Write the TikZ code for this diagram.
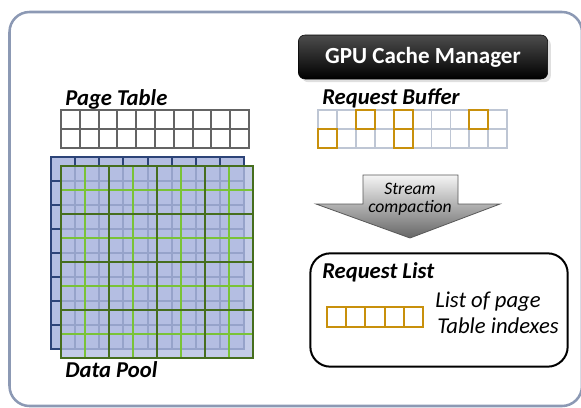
\documentclass[tikz,border=0pt]{standalone}
\usepackage{fontspec}
\setmainfont{Carlito}
\usetikzlibrary{positioning,shadows}

\definecolor{framegray}{RGB}{140,153,180}
\definecolor{ptgray}{RGB}{100,100,100}
\definecolor{bufgray}{RGB}{190,198,212}
\definecolor{reqorange}{RGB}{200,144,12}
\definecolor{poolblue}{RGB}{180,190,226}
\definecolor{poolnavy}{RGB}{45,68,120}
\definecolor{greendark}{RGB}{70,110,30}
\definecolor{greenlight}{RGB}{122,195,55}

\begin{document}
\begin{tikzpicture}[x=0.75pt, y=-0.75pt,
  lbl/.style={anchor=base west, inner sep=0pt,
              font=\fontsize{17}{20}\selectfont\bfseries\itshape},
  note/.style={anchor=base west, inner sep=0pt,
               font=\fontsize{17}{20}\selectfont\itshape},
  cmpt/.style={anchor=north, inner sep=0pt, align=center,
               font=\fontsize{13.2}{13}\selectfont\itshape},
  mgr/.style={draw=black, top color=black!70, bottom color=black,
              rounded corners=5pt, minimum width=187pt, minimum height=33pt,
              text=white, font=\fontsize{17.3}{20}\selectfont\bfseries,
              drop shadow={opacity=0.25}},
  box/.style={draw, line width=1.5pt, rounded corners=15pt,
              minimum width=193pt, minimum height=85pt},
  ptline/.style={draw=ptgray, line width=1.5pt},
  bufline/.style={draw=bufgray, line width=1.2pt},
  req/.style={draw=reqorange, line width=1.5pt}]
\useasboundingbox (0,0) rectangle (581,407);
\clip (0,0) rectangle (581,407);

% outer frame
\draw[framegray, line width=1.9pt, rounded corners=15pt] (9.5,12) rectangle (582,406);

% manager title
\node[mgr] (mgr) at (423,57) {GPU Cache Manager};

% page table
\node[lbl] (ptl) at (65,105) {Page Table};
\foreach \c in {0,...,9} \foreach \r in {0,1}
  \draw[ptline] (61+18.8*\c,110+19*\r) rectangle ++(18.8,19);

% request buffer
\node[lbl] (rbl) at (322,104) {Request Buffer};
\foreach \c in {0,...,9} \foreach \r in {0,1}
  \draw[bufline] (318+18.9*\c,110+19*\r) rectangle ++(18.9,19);
\foreach \c/\r in {2/0,4/0,8/0,0/1,4/1}
  \draw[req] (318+18.9*\c,110+19*\r) rectangle ++(18.9,19);

% data pool (back layer)
\fill[poolblue] (51,157) rectangle (244,349);
\foreach \i in {1,...,7} {
  \draw[poolnavy, line width=1.5pt] (51+24.125*\i,157) -- ++(0,192);
  \draw[poolnavy, line width=1.5pt] (51,157+24*\i) -- ++(193,0);
}
\draw[poolnavy, line width=1.5pt] (51,157) rectangle (244,349);

% data pool (front layer)
\fill[poolblue, opacity=0.78] (61,166) rectangle (253,358);
\foreach \i in {1,3,5,7} {
  \draw[greenlight, line width=0.9pt] (61+24*\i,166) -- ++(0,192);
  \draw[greenlight, line width=0.9pt] (61,166+24*\i) -- ++(192,0);
}
\foreach \i in {2,4,6} {
  \draw[greendark, line width=1.6pt] (61+24*\i,166) -- ++(0,192);
  \draw[greendark, line width=1.6pt] (61,166+24*\i) -- ++(192,0);
}
\draw[greendark, line width=1.6pt] (61,166) rectangle (253,358);
\node[lbl] (dpl) at (65,377) {Data Pool};

% compaction arrow
\path[top color=black!4, bottom color=black!60, draw=black!65, line width=0.6pt]
  (363,175) -- (458,175) -- (458,204) -- (500,204) -- (410,238)
  -- (316,204) -- (363,204) -- cycle;
\node[cmpt] (cmp) at (410,183) {Stream\\compaction};

% request list
\node[box] (rls) at (439,310) {};
\node[lbl] (rll) at (322,278) {Request List};
\foreach \c in {0,...,4}
  \draw[req] (327+19.2*\c,307) rectangle ++(19.2,20);
\node[note] (n1) at (435,307) {List of page};
\node[note] (n2) at (437,333) {Table indexes};
\end{tikzpicture}
\end{document}
